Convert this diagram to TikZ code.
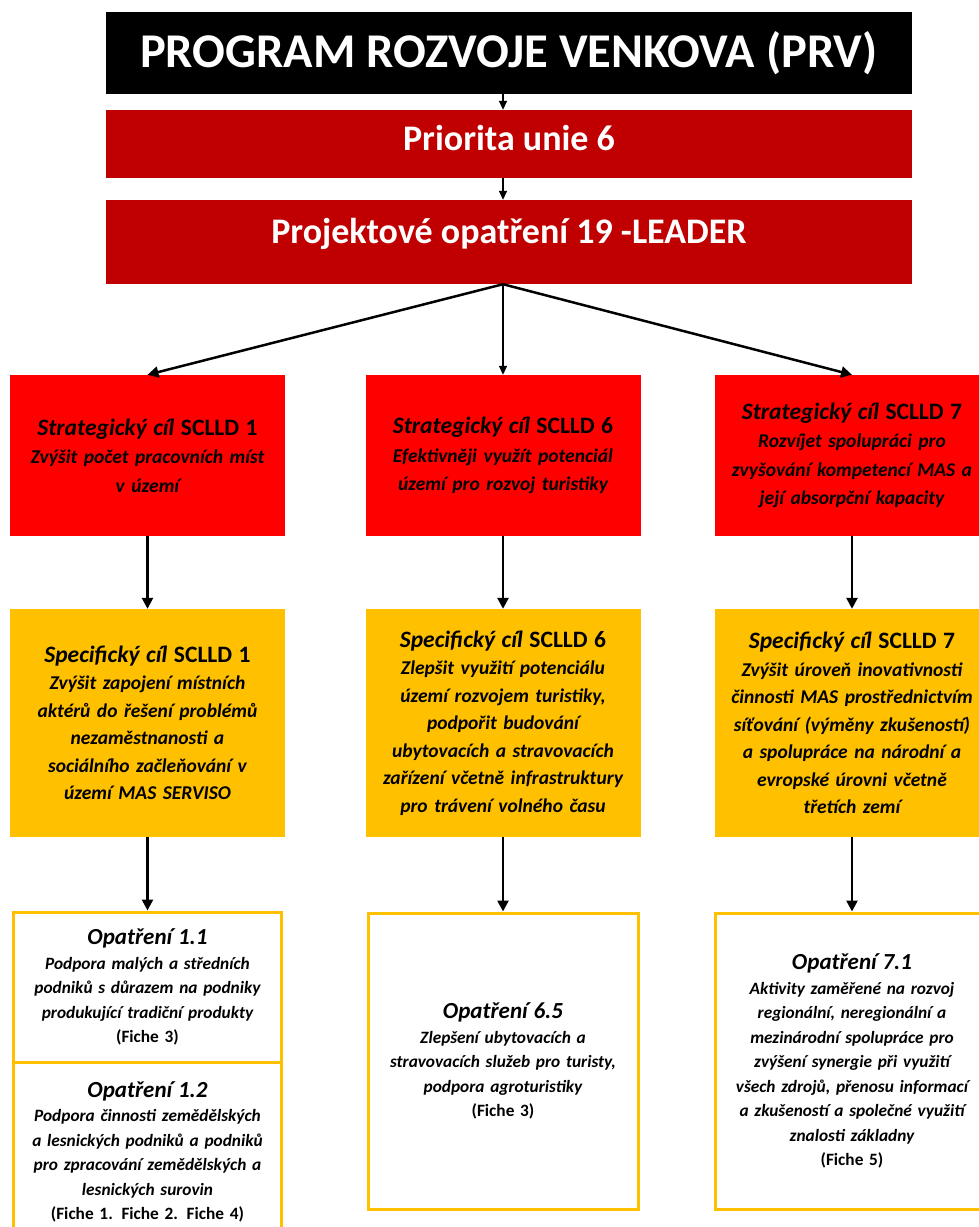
\documentclass[tikz,border=0pt]{standalone}
\usepackage{fontspec}
\setmainfont{Carlito}
\usetikzlibrary{arrows.meta, positioning}
\definecolor{prvdark}{HTML}{C00000}
\definecolor{prvred}{HTML}{FF0000}
\definecolor{prvgold}{HTML}{FFC000}

\begin{document}
\begin{tikzpicture}[x=1pt, y=-1pt,
    band/.style={fill=#1, text=white, font=\bfseries\fontsize{36}{40}\selectfont, minimum width=806pt, inner sep=0pt},
    goal/.style={fill=#1, minimum width=275pt, text width=268pt, align=center, inner sep=0pt,
                 font=\bfseries\itshape\fontsize{19.5}{28.5}\selectfont},
    measure/.style={draw=prvgold, line width=3pt, fill=white, minimum width=#1, text width=266pt, align=center, inner sep=0pt,
                 font=\bfseries\itshape\fontsize{17.3}{24.5}\selectfont},
    arr/.style={-{Triangle[length=11pt,width=11pt]}, line width=2.5pt},
    thinarr/.style={-{Triangle[length=9pt,width=8pt]}, line width=1.4pt}
]
    \useasboundingbox (0,0) rectangle (978,1227);

    % top of the hierarchy
    \node[band=black, minimum height=82pt, font=\bfseries\fontsize{48.5}{52}\selectfont] (prv) at (509,53) {PROGRAM ROZVOJE VENKOVA (PRV)};
    \node[band=prvdark, minimum height=68pt, text height=27pt, text depth=14pt] (priorita) at (509,144) {Priorita unie 6};
    \node[band=prvdark, minimum height=84pt, text height=27pt, text depth=24pt] (leader) at (509,242) {Projektové opatření 19 -LEADER};

    % strategic goals
    \node[goal=prvred, minimum height=161pt] (strat1) at (147.5,455.5)
        {{\fontsize{23.5}{28}\selectfont Strategický cíl \upshape SCLLD 1}\\Zvýšit počet pracovních míst\\v území};
    \node[goal=prvred, minimum height=161pt] (strat6) at (503,455.5)
        {{\fontsize{23.5}{28}\selectfont Strategický cíl \upshape SCLLD 6}\\Efektivněji využít potenciál\\území pro rozvoj turistiky};
    \node[goal=prvred, minimum height=161pt] (strat7) at (852,455.5)
        {{\fontsize{23.5}{28}\selectfont Strategický cíl \upshape SCLLD 7}\\Rozvíjet spolupráci pro\\zvyšování kompetencí MAS a\\její absorpční kapacity};

    % specific goals
    \node[goal=prvgold, minimum height=228pt, font=\bfseries\itshape\fontsize{19.5}{27.5}\selectfont] (spec1) at (147.5,723)
        {{\fontsize{23.5}{27.5}\selectfont Specifický cíl \upshape SCLLD 1}\\Zvýšit zapojení místních\\aktérů do řešení problémů\\nezaměstnanosti a\\sociálního začleňování v\\území MAS SERVISO};
    \node[goal=prvgold, minimum height=228pt, font=\bfseries\itshape\fontsize{19.5}{27.5}\selectfont] (spec6) at (503,723)
        {{\fontsize{23.5}{27.5}\selectfont Specifický cíl \upshape SCLLD 6}\\Zlepšit využití potenciálu\\území rozvojem turistiky,\\podpořit budování\\ubytovacích a stravovacích\\zařízení včetně infrastruktury\\pro trávení volného času};
    \node[goal=prvgold, minimum height=228pt, font=\bfseries\itshape\fontsize{19.5}{27.5}\selectfont] (spec7) at (852,723)
        {{\fontsize{23.5}{27.5}\selectfont Specifický cíl \upshape SCLLD 7}\\Zvýšit úroveň inovativnosti\\činnosti MAS prostřednictvím\\síťování (výměny zkušeností)\\a spolupráce na národní a\\evropské úrovni včetně\\třetích zemí};

    % measures
    \node[measure=268pt, minimum height=150pt] (op11) at (147.5,987)
        {{\fontsize{23}{24.5}\selectfont Opatření 1.1}\\Podpora malých a středních\\podniků s důrazem na podniky\\produkující tradiční produkty\\\upshape(Fiche 3)};
    \node[measure=268pt, minimum height=180pt] (op12) at (147.5,1152)
        {{\fontsize{23}{24.5}\selectfont Opatření 1.2}\\Podpora činnosti zemědělských\\a lesnických podniků a podniků\\pro zpracování zemědělských a\\lesnických surovin\\\upshape(Fiche 1. Fiche 2. Fiche 4)};
    \node[measure=270pt, minimum height=296pt] (op65) at (503,1061)
        {{\fontsize{23}{24.5}\selectfont Opatření 6.5}\\Zlepšení ubytovacích a\\stravovacích služeb pro turisty,\\podpora agroturistiky\\\upshape(Fiche 3)};
    \node[measure=273pt, minimum height=296pt] (op71) at (852,1061)
        {{\fontsize{23}{24.5}\selectfont Opatření 7.1}\\Aktivity zaměřené na rozvoj\\regionální, neregionální a\\mezinárodní spolupráce pro\\zvýšení synergie při využití\\všech zdrojů, přenosu informací\\a zkušeností a společné využití\\znalosti základny\\\upshape(Fiche 5)};

    \coordinate (fork) at (strat6.north |- leader.south);

    \draw[thinarr] (prv.south -| fork) -- (priorita.north -| fork);
    \draw[thinarr] (priorita.south -| fork) -- (leader.north -| fork);
    \draw[arr] (fork) -- (strat1.north);
    \draw[thinarr] (fork) -- (strat6.north);
    \draw[arr] (fork) -- (strat7.north);
    \draw[arr] (strat1) -- (spec1);
    \draw[arr] (strat6) -- (spec6);
    \draw[arr] (strat7) -- (spec7);
    \draw[arr] (spec1) -- (op11);
    \draw[arr] (spec6) -- (op65);
    \draw[arr] (spec7) -- (op71);
\end{tikzpicture}
\end{document}
